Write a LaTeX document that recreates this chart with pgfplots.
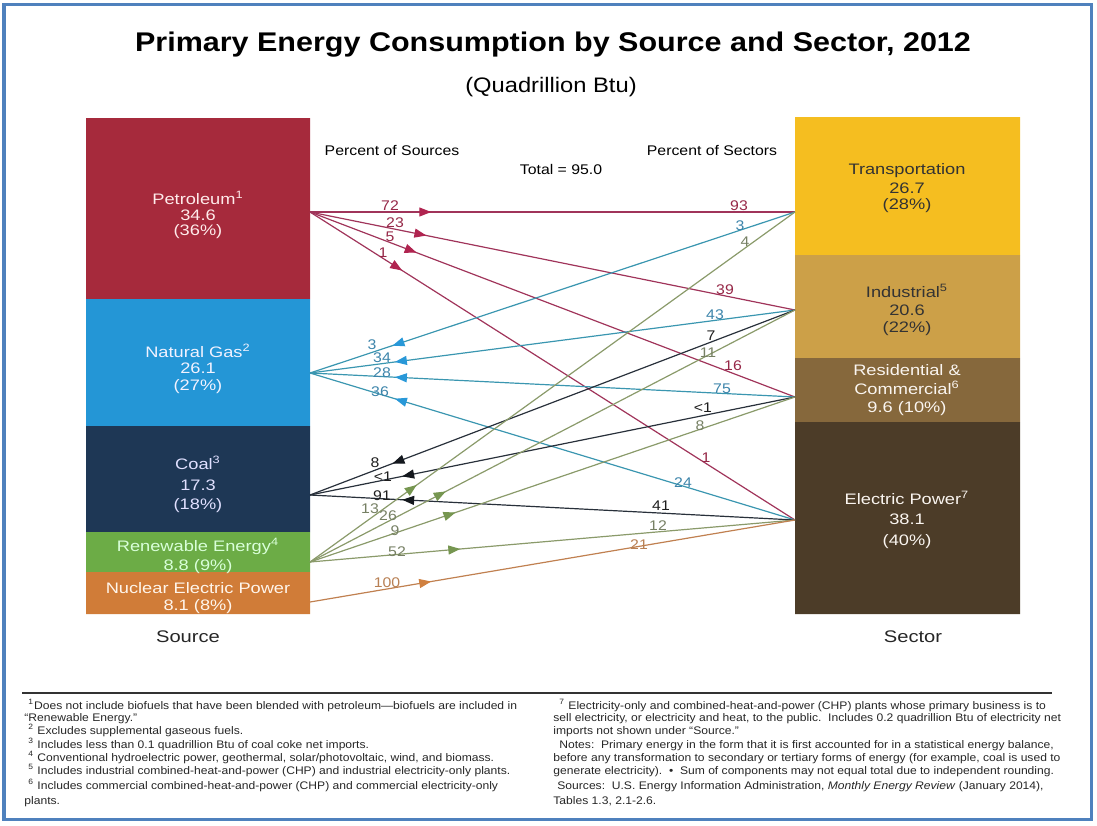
\documentclass[border=0pt]{standalone}
\usepackage{fontspec}
\setmainfont{Liberation Sans}
\newfontfamily\titlefont[FakeStretch=1.13]{Liberation Sans}
\newfontfamily\barfont[FakeStretch=1.2]{Liberation Sans}
\newfontfamily\smallfont[FakeStretch=1.13]{Liberation Sans}
\newfontfamily\notefont[FakeStretch=1.1]{Liberation Sans}
\usepackage{pgfplots}
\pgfplotsset{compat=1.18}
\usetikzlibrary{arrows.meta,decorations.markings}

\definecolor{cPet}{RGB}{166,42,60}
\definecolor{cGas}{RGB}{36,150,214}
\definecolor{cCoal}{RGB}{30,55,85}
\definecolor{cRen}{RGB}{108,172,70}
\definecolor{cNuc}{RGB}{208,124,56}
\definecolor{cTr}{RGB}{245,190,32}
\definecolor{cInd}{RGB}{204,160,72}
\definecolor{cRes}{RGB}{134,104,60}
\definecolor{cEle}{RGB}{76,60,40}
\definecolor{lPet}{RGB}{160,52,90}
\definecolor{lGas}{RGB}{58,150,176}
\definecolor{lCoal}{RGB}{40,48,58}
\definecolor{lRen}{RGB}{138,154,106}
\definecolor{lNuc}{RGB}{192,128,80}
\definecolor{aPet}{RGB}{176,36,80}
\definecolor{aGas}{RGB}{40,152,216}
\definecolor{aCoal}{RGB}{20,24,30}
\definecolor{aRen}{RGB}{118,150,80}
\definecolor{aNuc}{RGB}{208,128,64}
\definecolor{tPet}{RGB}{150,40,72}
\definecolor{tGas}{RGB}{60,132,170}
\definecolor{tCoal}{RGB}{30,30,30}
\definecolor{tRen}{RGB}{118,128,100}
\definecolor{tNuc}{RGB}{184,128,84}
\definecolor{frame}{RGB}{79,129,189}

\pgfplotsset{
  fl/.style n args={3}{draw=#1, line width=0.6pt, no markers,
    postaction={decorate},
    decoration={markings, mark=at position #2 with {\arrow{Triangle[length=6pt,width=4.5pt,color=#3]}}}},
  flr/.style n args={3}{draw=#1, line width=0.6pt, no markers,
    postaction={decorate},
    decoration={markings, mark=at position #2 with {\arrowreversed{Triangle[length=6pt,width=4.5pt,color=#3]}}}},
}
\tikzset{
  bl/.style={font=\barfont\fontsize{7.6}{8}\selectfont, text height=1.38ex, text depth=0pt, inner sep=0pt, anchor=center},
  nl/.style={font=\smallfont\fontsize{7}{8}\selectfont, text height=1.38ex, text depth=0pt, inner sep=0pt, anchor=center},
  fn/.style={font=\notefont\fontsize{5.5}{6}\selectfont, inner sep=0pt, anchor=base west, text=black!85},
}

\begin{document}
\begin{tikzpicture}
\begin{axis}[name=ax, scale only axis, width=548.5pt, height=412.5pt,
  xmin=0, xmax=1097, ymin=0, ymax=825, y dir=reverse, hide axis, clip=false]

% ---- source bar (pixel bounds) ----
\addplot[fill=cPet, draw=none] coordinates {(86,118) (310,118) (310,299) (86,299) (86,118)};
\addplot[fill=cGas, draw=none] coordinates {(86,299) (310,299) (310,426) (86,426) (86,299)};
\addplot[fill=cCoal, draw=none] coordinates {(86,426) (310,426) (310,532) (86,532) (86,426)};
\addplot[fill=cRen, draw=none] coordinates {(86,532) (310,532) (310,572) (86,572) (86,532)};
\addplot[fill=cNuc, draw=none] coordinates {(86,572) (310,572) (310,614) (86,614) (86,572)};
% ---- sector bar ----
\addplot[fill=cTr, draw=none] coordinates {(795,117) (1020,117) (1020,255) (795,255) (795,117)};
\addplot[fill=cInd, draw=none] coordinates {(795,255) (1020,255) (1020,358) (795,358) (795,255)};
\addplot[fill=cRes, draw=none] coordinates {(795,358) (1020,358) (1020,422) (795,422) (795,358)};
\addplot[fill=cEle, draw=none] coordinates {(795,422) (1020,422) (1020,614) (795,614) (795,422)};

% ---- flows ----
% Petroleum
\addplot[fl={lPet}{0.25}{aPet}] coordinates {(310,212) (795,212)};
\addplot[fl={lPet}{0.24}{aPet}] coordinates {(310,212) (795,310)};
\addplot[fl={lPet}{0.22}{aPet}] coordinates {(310,212) (795,397)};
\addplot[fl={lPet}{0.19}{aPet}] coordinates {(310,212) (795,520)};
% Natural gas
\addplot[flr={lGas}{0.17}{aGas}] coordinates {(310,373) (795,212)};
\addplot[flr={lGas}{0.175}{aGas}] coordinates {(310,373) (795,310)};
\addplot[flr={lGas}{0.175}{aGas}] coordinates {(310,373) (795,397)};
\addplot[flr={lGas}{0.175}{aGas}] coordinates {(310,373) (795,520)};
% Coal
\addplot[flr={lCoal}{0.17}{aCoal}] coordinates {(310,495) (795,310)};
\addplot[flr={lCoal}{0.19}{aCoal}] coordinates {(310,495) (795,397)};
\addplot[flr={lCoal}{0.19}{aCoal}] coordinates {(310,495) (795,520)};
% Renewable
\addplot[fl={lRen}{0.22}{aRen}] coordinates {(310,562) (795,212)};
\addplot[fl={lRen}{0.28}{aRen}] coordinates {(310,562) (795,310)};
\addplot[fl={lRen}{0.30}{aRen}] coordinates {(310,562) (795,397)};
\addplot[fl={lRen}{0.31}{aRen}] coordinates {(310,562) (795,520)};
% Nuclear
\addplot[fl={lNuc}{0.25}{aNuc}] coordinates {(310,602) (795,520)};

% ---- frame, title ----
\draw[frame, line width=1.5pt] (axis cs:4,4) rectangle (axis cs:1091,819);
\node[font=\titlefont\bfseries\fontsize{13.5}{15}\selectfont, anchor=center] at (axis cs:553,45) {Primary Energy Consumption by Source and Sector, 2012};
\node[font=\titlefont\fontsize{10.5}{12}\selectfont, anchor=center] at (axis cs:551,87) {(Quadrillion Btu)};
\node[nl] at (axis cs:392,148) {Percent of Sources};
\node[nl] at (axis cs:712,148) {Percent of Sectors};
\node[nl] at (axis cs:561,167) {Total = 95.0};

% ---- bar labels ----
\begin{scope}[every node/.append style={bl}]
\node[text=white!92!red] at (axis cs:198,197) {Petroleum\textsuperscript{1}};
\node[text=white!92!red] at (axis cs:198,213) {34.6};
\node[text=white!92!red] at (axis cs:198,228) {(36\%)};
\node[text=white!95!blue] at (axis cs:198,350) {Natural Gas\textsuperscript{2}};
\node[text=white!95!blue] at (axis cs:198,366) {26.1};
\node[text=white!95!blue] at (axis cs:198,383) {(27\%)};
\node[text=white!88!blue] at (axis cs:198,462) {Coal\textsuperscript{3}};
\node[text=white!88!blue] at (axis cs:198,483) {17.3};
\node[text=white!88!blue] at (axis cs:198,502) {(18\%)};
\node[text=white!85!green] at (axis cs:198,544) {Renewable Energy\textsuperscript{4}};
\node[text=white!85!green] at (axis cs:198,563) {8.8 (9\%)};
\node[text=white!92!orange] at (axis cs:198,586) {Nuclear Electric Power};
\node[text=white!92!orange] at (axis cs:198,603) {8.1 (8\%)};
\node[text=black!80] at (axis cs:907,167) {Transportation};
\node[text=black!80] at (axis cs:907,186) {26.7};
\node[text=black!80] at (axis cs:907,202) {(28\%)};
\node[text=black!80] at (axis cs:907,290) {Industrial\textsuperscript{5}};
\node[text=black!80] at (axis cs:907,308) {20.6};
\node[text=black!80] at (axis cs:907,325) {(22\%)};
\node[text=white!92!brown] at (axis cs:907,368) {Residential \&};
\node[text=white!92!brown] at (axis cs:907,387) {Commercial\textsuperscript{6}};
\node[text=white!92!brown] at (axis cs:907,405) {9.6 (10\%)};
\node[text=white!92!brown] at (axis cs:907,497) {Electric Power\textsuperscript{7}};
\node[text=white!92!brown] at (axis cs:907,517) {38.1};
\node[text=white!92!brown] at (axis cs:907,538) {(40\%)};
\end{scope}
\node[font=\barfont\fontsize{8.4}{10}\selectfont, text=black!85] at (axis cs:188,637) {Source};
\node[font=\barfont\fontsize{8.4}{10}\selectfont, text=black!85] at (axis cs:913,637) {Sector};

% ---- flow labels (percent of sources) ----
\node[nl, text=tPet] at (axis cs:390,203) {72};
\node[nl, text=tPet] at (axis cs:395,220) {23};
\node[nl, text=tPet] at (axis cs:390,234) {5};
\node[nl, text=tPet] at (axis cs:383,250) {1};
\node[nl, text=tGas] at (axis cs:372,342) {3};
\node[nl, text=tGas] at (axis cs:382,355) {34};
\node[nl, text=tGas] at (axis cs:382,370) {28};
\node[nl, text=tGas] at (axis cs:380,389) {36};
\node[nl, text=tCoal] at (axis cs:375,460) {8};
\node[nl, text=tCoal] at (axis cs:383,474) {<1};
\node[nl, text=tCoal] at (axis cs:382,493) {91};
\node[nl, text=tRen] at (axis cs:370,506) {13};
\node[nl, text=tRen] at (axis cs:388,513) {26};
\node[nl, text=tRen] at (axis cs:395,528) {9};
\node[nl, text=tRen] at (axis cs:397,549) {52};
\node[nl, text=tNuc] at (axis cs:387,580) {100};
% ---- flow labels (percent of sectors) ----
\node[nl, text=tPet] at (axis cs:739,203) {93};
\node[nl, text=tGas] at (axis cs:740,223) {3};
\node[nl, text=tRen] at (axis cs:745,239) {4};
\node[nl, text=tPet] at (axis cs:725,287) {39};
\node[nl, text=tGas] at (axis cs:715,312) {43};
\node[nl, text=tCoal] at (axis cs:711,333) {7};
\node[nl, text=tRen] at (axis cs:708,350) {11};
\node[nl, text=tPet] at (axis cs:733,363) {16};
\node[nl, text=tGas] at (axis cs:722,386) {75};
\node[nl, text=tCoal] at (axis cs:703,405) {<1};
\node[nl, text=tRen] at (axis cs:700,423) {8};
\node[nl, text=tPet] at (axis cs:706,455) {1};
\node[nl, text=tGas] at (axis cs:683,480) {24};
\node[nl, text=tCoal] at (axis cs:661,503) {41};
\node[nl, text=tRen] at (axis cs:658,523) {12};
\node[nl, text=tNuc] at (axis cs:639,542) {21};

% ---- footnotes ----
\draw[black!80, line width=0.8pt] (axis cs:22,693) -- (axis cs:1052,693);
\node[fn] at (axis cs:28,709) {\textsuperscript{1}Does not include biofuels that have been blended with petroleum—biofuels are included in};
\node[fn] at (axis cs:24,721) {“Renewable Energy.”};
\node[fn] at (axis cs:28,734) {\textsuperscript{2} Excludes supplemental gaseous fuels.};
\node[fn] at (axis cs:28,748) {\textsuperscript{3} Includes less than 0.1 quadrillion Btu of coal coke net imports.};
\node[fn] at (axis cs:28,761) {\textsuperscript{4} Conventional hydroelectric power, geothermal, solar/photovoltaic, wind, and biomass.};
\node[fn] at (axis cs:28,774) {\textsuperscript{5} Includes industrial combined-heat-and-power (CHP) and industrial electricity-only plants.};
\node[fn] at (axis cs:28,789) {\textsuperscript{6} Includes commercial combined-heat-and-power (CHP) and commercial electricity-only};
\node[fn] at (axis cs:24,804) {plants.};
\node[fn] at (axis cs:559,709) {\textsuperscript{7} Electricity-only and combined-heat-and-power (CHP) plants whose primary business is to};
\node[fn] at (axis cs:553,721) {sell electricity, or electricity and heat, to the public.\ \ Includes 0.2 quadrillion Btu of electricity net};
\node[fn] at (axis cs:553,734) {imports not shown under “Source.”};
\node[fn] at (axis cs:559,748) {Notes:\ \ Primary energy in the form that it is first accounted for in a statistical energy balance,};
\node[fn] at (axis cs:553,761) {before any transformation to secondary or tertiary forms of energy (for example, coal is used to};
\node[fn] at (axis cs:553,774) {generate electricity).\ \ •\ \ Sum of components may not equal total due to independent rounding.};
\node[fn] at (axis cs:557,789) {Sources:\ \ U.S. Energy Information Administration, \textit{Monthly Energy Review} (January 2014),};
\node[fn] at (axis cs:553,804) {Tables 1.3, 2.1-2.6.};
\end{axis}
\pgfresetboundingbox
\path (ax.south west) rectangle (ax.north east);
\end{tikzpicture}
\end{document}
